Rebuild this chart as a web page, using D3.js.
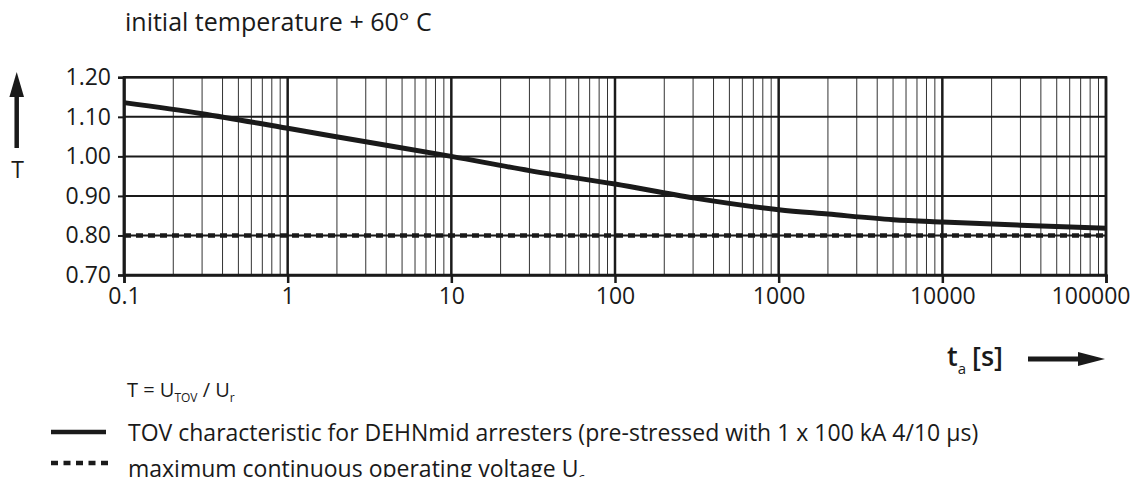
<!DOCTYPE html>
<html lang="en">
<head>
  <meta charset="UTF-8">
  <title>TOV characteristic - DEHNmid</title>
  <style>
    body { margin: 0; background: #fff; font-family: "Open Sans", "Noto Sans", sans-serif; }
    svg text { fill: #1a1a1a; }
    .minor { stroke: #333; stroke-width: 1; }
    .major { stroke: #1a1a1a; stroke-width: 2.5; }
    .hgrid { stroke: #1a1a1a; stroke-width: 2; }
  </style>
</head>
<body>
  <div id="chart"></div>
  <script src="https://d3js.org/d3.v7.min.js"></script>
  <script>
    // values
    const tSeconds  = [0.1, 0.3, 1, 3, 10, 30, 100, 300, 1000, 2000, 5000, 10000, 30000, 100000];
    const tovValues = [1.136, 1.108, 1.071, 1.037, 1.0, 0.964, 0.93, 0.895, 0.865, 0.854, 0.84, 0.834, 0.826, 0.818];
    const ucLevel = 0.80;
    const xTicks = [0.1, 1, 10, 100, 1000, 10000, 100000];
    const yTicks = [0.70, 0.80, 0.90, 1.00, 1.10, 1.20];

    const width = 1136, height = 477;
    const plotLeft = 124, plotRight = 1106, plotTop = 77.3, plotBottom = 275;

    const svg = d3.select("#chart").append("svg")
      .attr("width", width)
      .attr("height", height);

    const x = d3.scaleLog().domain([0.1, 100000]).range([plotLeft, plotRight]);
    const y = d3.scaleLinear().domain([0.70, 1.20]).range([plotBottom, plotTop]);

    // minor vertical grid (2..9 in each decade)
    const minors = [];
    xTicks.slice(0, -1).forEach(d => {
      for (let k = 2; k <= 9; k++) minors.push(d * k);
    });
    svg.append("g").selectAll("line").data(minors).join("line")
      .attr("class", "minor")
      .attr("x1", d => x(d)).attr("x2", d => x(d))
      .attr("y1", plotTop).attr("y2", plotBottom);

    // horizontal grid
    svg.append("g").selectAll("line").data(yTicks).join("line")
      .attr("class", "hgrid")
      .attr("x1", plotLeft).attr("x2", plotRight)
      .attr("y1", d => y(d)).attr("y2", d => y(d));

    // decade lines
    svg.append("g").selectAll("line").data(xTicks).join("line")
      .attr("class", "major")
      .attr("x1", d => x(d)).attr("x2", d => x(d))
      .attr("y1", plotTop).attr("y2", plotBottom);

    // axes
    const xAxis = d3.axisBottom(x)
      .tickValues(xTicks)
      .tickSize(8)
      .tickPadding(5)
      .tickFormat(d => String(d));
    const gx = svg.append("g")
      .attr("transform", `translate(0,${plotBottom})`)
      .call(xAxis);
    gx.select(".domain").attr("stroke", "#1a1a1a").attr("stroke-width", 2.5);
    gx.selectAll(".tick line").attr("stroke", "#1a1a1a").attr("stroke-width", 2.5);
    gx.selectAll(".tick text")
      .style("font-size", "23px")
      .style("font-family", "'Open Sans', sans-serif")
      .attr("fill", "#1a1a1a");
    // last label kept inside the picture
    gx.selectAll(".tick text").filter(d => d === 100000)
      .attr("text-anchor", "end").attr("x", 24);

    const yAxis = d3.axisLeft(y)
      .tickValues(yTicks)
      .tickSize(6)
      .tickPadding(7)
      .tickFormat(d3.format(".2f"));
    const gy = svg.append("g")
      .attr("transform", `translate(${plotLeft},0)`)
      .call(yAxis);
    gy.select(".domain").attr("stroke", "#1a1a1a").attr("stroke-width", 2.5);
    gy.selectAll(".tick line").attr("stroke", "#1a1a1a").attr("stroke-width", 2);
    gy.selectAll(".tick text")
      .style("font-size", "23px")
      .style("font-family", "'Open Sans', sans-serif")
      .attr("fill", "#1a1a1a");

    // frame
    svg.append("rect")
      .attr("x", plotLeft).attr("y", plotTop)
      .attr("width", plotRight - plotLeft).attr("height", plotBottom - plotTop)
      .attr("fill", "none").attr("stroke", "#1a1a1a").attr("stroke-width", 2.5);

    // Uc dashed line
    svg.append("line")
      .attr("x1", plotLeft).attr("x2", plotRight)
      .attr("y1", y(ucLevel)).attr("y2", y(ucLevel))
      .attr("stroke", "#1a1a1a").attr("stroke-width", 4.5)
      .attr("stroke-dasharray", "7,5");

    // TOV curve
    const line = d3.line()
      .x((d, i) => x(tSeconds[i]))
      .y(d => y(d))
      .curve(d3.curveMonotoneX);
    svg.append("path")
      .datum(tovValues)
      .attr("d", line)
      .attr("fill", "none")
      .attr("stroke", "#1a1a1a")
      .attr("stroke-width", 5);

    // title
    svg.append("text")
      .attr("x", 125).attr("y", 31)
      .style("font-size", "25px")
      .text("initial temperature + 60° C");

    // y label and arrow
    svg.append("path")
      .attr("d", "M16.7,72 L24,97 L9.4,97 Z")
      .attr("fill", "#1a1a1a");
    svg.append("line")
      .attr("x1", 16.7).attr("x2", 16.7)
      .attr("y1", 95).attr("y2", 148)
      .attr("stroke", "#1a1a1a").attr("stroke-width", 4.5);
    svg.append("text")
      .attr("x", 17.5).attr("y", 178)
      .attr("text-anchor", "middle")
      .style("font-size", "23px")
      .text("T");

    // x label and arrow
    const xl = svg.append("text")
      .attr("x", 947).attr("y", 366)
      .style("font-size", "27px")
      .style("font-weight", 600);
    xl.append("tspan").text("t");
    xl.append("tspan").attr("dy", 8).style("font-size", "15px").style("font-weight", 400).text("a");
    xl.append("tspan").attr("dy", -8).attr("dx", 6).text("[s]");
    svg.append("line")
      .attr("x1", 1028).attr("x2", 1082)
      .attr("y1", 359).attr("y2", 359)
      .attr("stroke", "#1a1a1a").attr("stroke-width", 5);
    svg.append("path")
      .attr("d", "M1105,359 L1078,352 L1078,366 Z")
      .attr("fill", "#1a1a1a");

    // formula
    const f = svg.append("text")
      .attr("x", 127).attr("y", 397)
      .style("font-size", "20px");
    f.append("tspan").text("T = U");
    f.append("tspan").attr("dy", 5).style("font-size", "12px").text("TOV");
    f.append("tspan").attr("dy", -5).text(" / U");
    f.append("tspan").attr("dy", 5).style("font-size", "12px").text("r");

    // legend
    svg.append("line")
      .attr("x1", 51).attr("x2", 106)
      .attr("y1", 432).attr("y2", 432)
      .attr("stroke", "#1a1a1a").attr("stroke-width", 4.5);
    svg.append("text")
      .attr("x", 128).attr("y", 441)
      .style("font-size", "23px")
      .text("TOV characteristic for DEHNmid arresters (pre-stressed with 1 x 100 kA 4/10 µs)");

    svg.append("line")
      .attr("x1", 51).attr("x2", 108)
      .attr("y1", 463).attr("y2", 463)
      .attr("stroke", "#1a1a1a").attr("stroke-width", 4.5)
      .attr("stroke-dasharray", "7,5.5");
    const m = svg.append("text")
      .attr("x", 128).attr("y", 477)
      .style("font-size", "23px");
    m.append("tspan").text("maximum continuous operating voltage U");
    m.append("tspan").attr("dy", 5).style("font-size", "13px").text("c");
  </script>
</body>
</html>
